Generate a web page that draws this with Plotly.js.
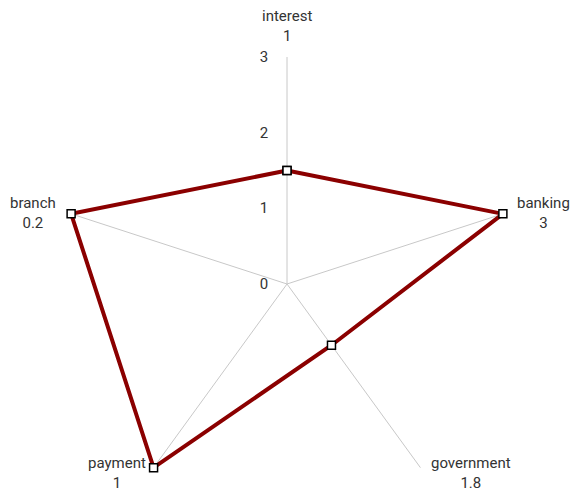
<!DOCTYPE html>
<html>
<head>
<meta charset="utf-8">
<script src="https://cdn.plot.ly/plotly-3.0.1.min.js"></script>
<style>
  html, body { margin: 0; padding: 0; background: #fff; overflow: hidden; }
  #wrap { width: 570px; height: 493px; overflow: hidden; position: relative; }
  #chart { width: 570px; height: 530px; }
</style>
</head>
<body>
<div id="wrap"><div id="chart"></div></div>
<script>
// ---- data ----
const categories = ['interest', 'banking', 'government', 'payment', 'branch'];
const values     = [0.5, 3, 0.6, 1, 0.2];      // raw values
const axisMax    = [1, 3, 1.8, 1, 0.2];        // per-axis maximum (shown under label)
const radialTicks = [0, 1, 2, 3];

// ---- geometry / style ----
const W = 570, H = 530;
const M = { l: 60, r: 56, t: 57, b: 19 };
const plotW = W - M.l - M.r, plotH = H - M.t - M.b;
const cx = M.l + plotW / 2, cy = M.t + plotH / 2, R = plotW / 2;
const rMax = radialTicks[radialTicks.length - 1];
const textColor = '#333333';
const fontFam = 'Roboto, "Liberation Sans", sans-serif';
const fontSize = 15;

// normalise each value to its own axis scale (0..rMax)
const rNorm = values.map((v, i) => v / axisMax[i] * rMax);

const trace = {
  type: 'scatterpolar',
  r: rNorm.concat([rNorm[0]]),
  theta: categories.concat([categories[0]]),
  mode: 'lines+markers',
  line: { color: '#8b0000', width: 4 },
  marker: { symbol: 'square', size: 8, color: '#ffffff', line: { color: '#000000', width: 1.5 } },
  cliponaxis: false,
  hoverinfo: 'skip'
};

// label placement (angle-based, relative to spoke tips)
const anchors = [
  { xa: 'center', ya: 'bottom', dx: 0,   dy: -10 },
  { xa: 'left',   ya: 'middle', dx: 12,  dy: -1 },
  { xa: 'left',   ya: 'middle', dx: 9,   dy: 5 },
  { xa: 'right',  ya: 'middle', dx: -6,  dy: 5 },
  { xa: 'right',  ya: 'middle', dx: -13, dy: -1 }
];
const annotations = categories.map((c, i) => {
  const ang = (90 - i * 360 / categories.length) * Math.PI / 180;
  const px = cx + R * Math.cos(ang) + anchors[i].dx;
  const py = cy - R * Math.sin(ang) + anchors[i].dy;
  return {
    xref: 'paper', yref: 'paper',
    x: (px - M.l) / plotW, y: (H - M.b - py) / plotH,
    xanchor: anchors[i].xa, yanchor: anchors[i].ya,
    text: c + '<br>' + axisMax[i],
    align: 'center', showarrow: false,
    font: { family: fontFam, size: fontSize, color: textColor }
  };
});

const layout = {
  width: W, height: H,
  margin: M,
  paper_bgcolor: '#ffffff',
  showlegend: false,
  font: { family: fontFam, size: fontSize, color: textColor },
  polar: {
    domain: { x: [0, 1], y: [0, 1] },
    bgcolor: '#ffffff',
    radialaxis: {
      range: [0, rMax],
      tickvals: radialTicks,
      ticktext: radialTicks.map(String),
      angle: 90,
      side: 'counterclockwise',
      tickangle: 90,
      showline: false,
      showgrid: false,
      ticks: 'outside',
      ticklen: 13,
      tickcolor: 'rgba(0,0,0,0)',
      tickfont: { family: fontFam, size: fontSize, color: textColor }
    },
    angularaxis: {
      type: 'category',
      categoryarray: categories,
      direction: 'clockwise',
      rotation: 90,
      showticklabels: false,
      ticks: '',
      showline: false,
      showgrid: true,
      gridcolor: '#c8c8c8',
      gridwidth: 1
    }
  },
  annotations: annotations
};

Plotly.newPlot('chart', [trace], layout, { displayModeBar: false, staticPlot: true });
</script>
</body>
</html>
